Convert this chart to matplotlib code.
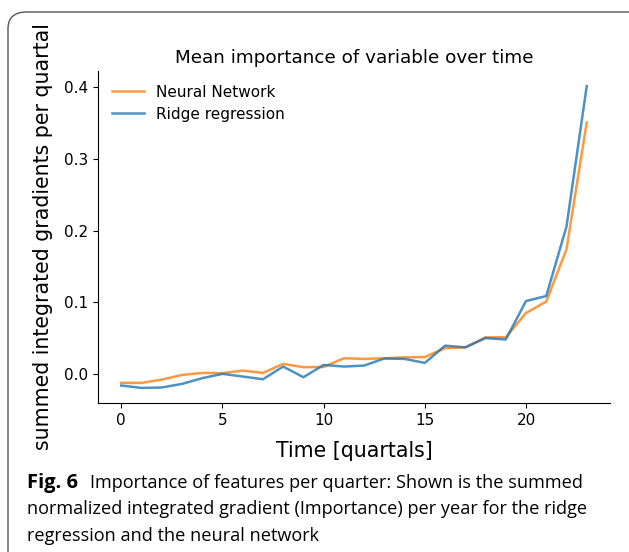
import matplotlib
matplotlib.use("Agg")
import matplotlib.pyplot as plt
from matplotlib.patches import FancyBboxPatch

quarters = list(range(24))
neural_network = [-0.0126, -0.0126, -0.008, -0.0015, 0.0013, 0.001, 0.0046, 0.0013,
                  0.014, 0.0093, 0.0097, 0.0218, 0.0209, 0.0218, 0.023, 0.0235,
                  0.036, 0.037, 0.051, 0.051, 0.085, 0.101, 0.174, 0.351]
ridge_regression = [-0.0163, -0.0196, -0.019, -0.014, -0.006, 0.0, -0.0037, -0.0075,
                    0.0102, -0.0047, 0.0125, 0.0102, 0.0116, 0.0215, 0.0209, 0.0153,
                    0.0394, 0.037, 0.050, 0.048, 0.1017, 0.1087, 0.2057, 0.4018]
series_labels = ["Neural Network", "Ridge regression"]
x_ticks = [0, 5, 10, 15, 20]
y_ticks = [0.0, 0.1, 0.2, 0.3, 0.4]

W, H = 629, 552
fig = plt.figure(figsize=(W / 100, H / 100), dpi=100)

# rounded frame of the paper figure
frame = FancyBboxPatch((8 / W, -0.2), 1.2, (H - 12) / H + 0.2,
                       boxstyle="round,pad=0,rounding_size=0.03",
                       transform=fig.transFigure, fill=False,
                       edgecolor="#555555", linewidth=1.0, clip_on=False)
fig.patches.append(frame)

ax = fig.add_axes([98 / W, 1 - 403 / H, (610 - 98) / W, (403 - 71) / H])
ax.plot(quarters, neural_network, color="#ff7f0e", alpha=0.8, lw=1.8, label=series_labels[0])
ax.plot(quarters, ridge_regression, color="#1f77b4", alpha=0.8, lw=1.8, label=series_labels[1])
ax.spines["top"].set_visible(False)
ax.spines["right"].set_visible(False)
ax.set_xticks(x_ticks)
ax.set_yticks(y_ticks)
ax.set_yticklabels([f"{v:.1f}" for v in y_ticks])
ax.tick_params(labelsize=11)
ax.set_title("Mean importance of variable over time", fontsize=13.2, pad=5.5)
ax.set_xlabel("Time [quartals]", fontsize=14.8)
ax.set_ylabel("summed integrated gradients per quartal", fontsize=14.8)
ax.yaxis.set_label_coords(-0.088, 0.5)
ax.xaxis.set_label_coords(0.5, -0.115)
ax.legend(loc="upper left", frameon=False, fontsize=11, bbox_to_anchor=(0.0, 1.0),
          handlelength=2.1, handletextpad=0.8, labelspacing=0.45)

cap_font = "Open Sans"
fig.text(27 / W, 1 - 488 / H, "Fig. 6", fontsize=14.5, fontweight="bold",
         family=cap_font, va="baseline", ha="left")
fig.text(90 / W, 1 - 488 / H, "Importance of features per quarter: Shown is the summed",
         fontsize=13.1, family=cap_font, va="baseline", ha="left")
fig.text(27 / W, 1 - 514 / H,
         "normalized integrated gradient (Importance) per year for the ridge",
         fontsize=13.1, family=cap_font, va="baseline", ha="left")
fig.text(27 / W, 1 - 541 / H, "regression and the neural network",
         fontsize=13.1, family=cap_font, va="baseline", ha="left")

fig.savefig("out.png", dpi=100)
